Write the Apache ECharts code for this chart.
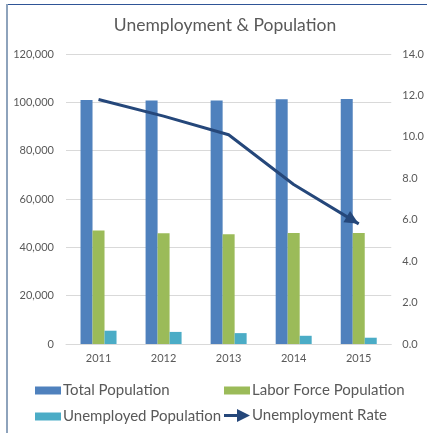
<!DOCTYPE html>
<html>
<head>
<meta charset="utf-8">
<script src="https://cdn.jsdelivr.net/npm/echarts@6/dist/echarts.min.js"></script>
<style>html,body{margin:0;padding:0;background:#fff;}#c{width:427px;height:433px;}</style>
</head>
<body>
<div id="c"></div>
<script>
var categories = ['2011', '2012', '2013', '2014', '2015'];
var totalPopulation = [101000, 100800, 100800, 101300, 101400];
var laborForce = [47000, 45800, 45400, 45900, 45900];
var unemployed = [5500, 5000, 4500, 3400, 2600];
var unemploymentRate = [11.8, 11.0, 10.1, 7.7, 5.8];
var leftTicks = [0, 20000, 40000, 60000, 80000, 100000, 120000];
var rightTicks = [0, 2, 4, 6, 8, 10, 12, 14];

var FONT = 'Lato, "Open Sans", sans-serif';
var TXT = '#595959';
var chart = echarts.init(document.getElementById('c'));

var rateData = unemploymentRate.map(function (v, i) {
  if (i === unemploymentRate.length - 1) {
    return { value: v, symbol: 'triangle', symbolSize: [13, 14], symbolRotate: -121, symbolOffset: [-6, -3.6] };
  }
  return { value: v };
});

function legendBase(name, left, top, extra) {
  var o = {
    data: [name], left: left, top: top, orient: 'vertical',
    itemWidth: 26, itemHeight: 8, itemGap: 0, padding: 0,
    selectedMode: false,
    textStyle: { color: TXT, fontSize: 15, fontFamily: FONT, padding: [0, 0, 0, -3] }
  };
  for (var k in extra) o[k] = extra[k];
  return o;
}

chart.setOption({
  animation: false,
  backgroundColor: '#ffffff',
  title: {
    text: 'Unemployment & Population',
    left: 220, top: 11, textAlign: 'center',
    textStyle: { color: TXT, fontSize: 17.5, fontWeight: 'normal', fontFamily: FONT }
  },
  graphic: [
    { type: 'line', silent: true, shape: { x1: 7, y1: 4.5, x2: 427, y2: 4.5 }, style: { stroke: '#2F5597', lineWidth: 1 } },
    { type: 'line', silent: true, shape: { x1: 7, y1: 4, x2: 7, y2: 433 }, style: { stroke: '#8EA3BC', lineWidth: 2 } }
  ],
  legend: [
    legendBase('Total Population', 35, 383, { icon: 'rect' }),
    legendBase('Labor Force Population', 224, 383, { icon: 'rect' }),
    legendBase('Unemployed Population', 35, 409, { icon: 'rect' }),
    legendBase('Unemployment Rate', 224, 408, {
      itemHeight: 13,
      icon: 'path://M0,5 L13,5 L13,0 L26,6.5 L13,13 L13,8 L0,8 Z',
      itemStyle: { color: '#25477A' }
    })
  ],
  grid: { left: 66, right: 35, top: 54, bottom: 89, containLabel: false },
  xAxis: {
    type: 'category',
    data: categories,
    axisTick: { show: false },
    axisLine: { lineStyle: { color: '#D9D9D9', width: 1 } },
    axisLabel: { color: TXT, fontSize: 11, fontFamily: FONT, margin: 9 }
  },
  yAxis: [
    {
      type: 'value', min: leftTicks[0], max: leftTicks[leftTicks.length - 1], interval: leftTicks[1] - leftTicks[0],
      axisLine: { show: false }, axisTick: { show: false },
      splitLine: { lineStyle: { color: '#D9D9D9', width: 1 } },
      axisLabel: {
        color: TXT, fontSize: 11, fontFamily: FONT, margin: 12,
        formatter: function (v) { return v.toLocaleString('en-US'); }
      }
    },
    {
      type: 'value', min: rightTicks[0], max: rightTicks[rightTicks.length - 1], interval: rightTicks[1] - rightTicks[0],
      axisLine: { show: false }, axisTick: { show: false },
      splitLine: { show: false },
      axisLabel: {
        color: TXT, fontSize: 11, fontFamily: FONT, margin: 11,
        formatter: function (v) { return v.toFixed(1); }
      }
    }
  ],
  series: [
    { name: 'Total Population', type: 'bar', data: totalPopulation, barWidth: 12, barGap: '0%', itemStyle: { color: '#4F81BD' }, emphasis: { disabled: true } },
    { name: 'Labor Force Population', type: 'bar', data: laborForce, barWidth: 12, barGap: '0%', itemStyle: { color: '#9BBB59' }, emphasis: { disabled: true } },
    { name: 'Unemployed Population', type: 'bar', data: unemployed, barWidth: 12, barGap: '0%', itemStyle: { color: '#4BACC6' }, emphasis: { disabled: true } },
    {
      name: 'Unemployment Rate', type: 'line', yAxisIndex: 1, data: rateData,
      symbol: 'none', showSymbol: true,
      lineStyle: { color: '#25477A', width: 3 },
      itemStyle: { color: '#25477A' },
      emphasis: { disabled: true }, z: 5
    }
  ]
});
</script>
</body>
</html>
